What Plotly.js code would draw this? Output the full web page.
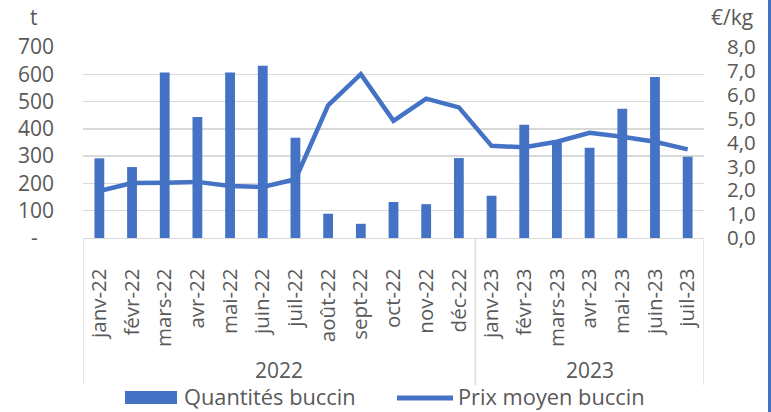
<!DOCTYPE html>
<html><head><meta charset="utf-8">
<script src="https://cdn.plot.ly/plotly-3.0.1.min.js"></script>
<style>html,body{margin:0;padding:0;background:#fff}#chart{width:771px;height:412px}</style>
</head><body><div id="chart"></div>
<script>
const years = ["2022","2022","2022","2022","2022","2022","2022","2022","2022","2022","2022","2022","2023","2023","2023","2023","2023","2023","2023"];
const months = ["janv-22","févr-22","mars-22","avr-22","mai-22","juin-22","juil-22","août-22","sept-22","oct-22","nov-22","déc-22","janv-23","févr-23","mars-23","avr-23","mai-23","juin-23","juil-23"];
const quantites = [292,260,607,443,607,631,367,89,52,132,124,293,155,415,359,331,474,590,298];
const prix = [1.97,2.30,2.31,2.35,2.18,2.14,2.46,5.56,6.86,4.91,5.84,5.47,3.86,3.80,4.03,4.41,4.24,4.03,3.71];
const leftTickVals = [0,100,200,300,400,500,600,700];
const leftTickText = ["-\u00a0\u00a0\u00a0","100","200","300","400","500","600","700"];
const seriesNames = ["Quantités buccin", "Prix moyen buccin"];

const FONT = "Open Sans, DejaVu Sans, sans-serif";
const GREY = "#595959";
const BLUE = "#4472C4";
const DIV = "#d9d9d9";

// year groups derived from the years array (category index ranges)
const groups = [];
years.forEach((y, i) => {
  const g = groups[groups.length - 1];
  if (g && g.name === y) g.last = i; else groups.push({name: y, first: i, last: i});
});

const yearAnn = groups.map(g => ({
  text: g.name, xref: "x", yref: "paper", x: (g.first + g.last) / 2, y: -0.691,
  xanchor: "center", yanchor: "middle", showarrow: false, font: {size: 21, color: GREY}
}));
const dividerX = [groups[0].first - 0.5].concat(groups.map(g => g.last + 0.5));
const dividers = dividerX.map(x => ({
  type: "line", xref: "x", yref: "paper", x0: x, x1: x, y0: 0, y1: -0.77,
  line: {color: DIV, width: 1.3}
}));

// legend drawn in paper space
const legendShapes = [
  {type:"rect", xref:"paper", yref:"paper", x0:0.0676, x1:0.1514, y0:-0.869, y1:-0.801,
   line:{width:0}, fillcolor:BLUE},
  {type:"line", xref:"paper", yref:"paper", x0:0.5056, x1:0.5958, y0:-0.838, y1:-0.838,
   line:{color:BLUE, width:5}}
];
const legendAnn = [
  {text:seriesNames[0], xref:"paper", yref:"paper", x:0.159, y:-0.830, xanchor:"left", yanchor:"middle",
   showarrow:false, font:{size:21.8, color:GREY}},
  {text:seriesNames[1], xref:"paper", yref:"paper", x:0.600, y:-0.830, xanchor:"left", yanchor:"middle",
   showarrow:false, font:{size:21.8, color:GREY}}
];

const data = [
  {type:"bar", name:seriesNames[0], x:months, y:quantites,
   marker:{color:BLUE}, width:0.3, yaxis:"y"},
  {type:"scatter", mode:"lines", name:seriesNames[1], x:months, y:prix,
   line:{color:BLUE, width:4.5}, yaxis:"y2"}
];

const layout = {
  width:771, height:412,
  margin:{l:83, r:67, t:47, b:174, autoexpand:false},
  paper_bgcolor:"#fff", plot_bgcolor:"#fff",
  font:{family:FONT, color:GREY, size:20},
  separators:", ",
  showlegend:false,
  xaxis:{type:"category", tickangle:-90, showgrid:false, showline:true, linecolor:DIV,
         linewidth:1.3, tickfont:{size:20.5, color:GREY}, ticks:"", ticklabelstandoff:21,
         automargin:false, range:[-0.5, months.length - 0.5]},
  yaxis:{range:[0,700], tickvals:leftTickVals, ticktext:leftTickText, showgrid:true,
         gridcolor:DIV, gridwidth:1.3, zeroline:false, showline:false, ticks:"",
         tickfont:{size:21, color:GREY}, ticklabelstandoff:28, automargin:false},
  yaxis2:{range:[0,8], dtick:1, tickformat:".1f", overlaying:"y", side:"right",
          showgrid:false, zeroline:false, showline:false, ticks:"",
          tickfont:{size:20.5, color:GREY}, ticklabelstandoff:22, automargin:false},
  annotations:[
    {text:"t", xref:"paper", yref:"paper", x:-0.079, y:1.157, xanchor:"center", yanchor:"middle",
     showarrow:false, font:{size:21, color:GREY}},
    {text:"€/kg", xref:"paper", yref:"paper", x:1.045, y:1.157, xanchor:"center", yanchor:"middle",
     showarrow:false, font:{size:21, color:GREY}}
  ].concat(yearAnn, legendAnn),
  shapes:[
    {type:"line", xref:"paper", yref:"paper", x0:1.1055, x1:1.1055, y0:-1.2, y1:1.3,
     line:{color:BLUE, width:3}}
  ].concat(dividers, legendShapes)
};
Plotly.newPlot("chart", data, layout, {displayModeBar:false, staticPlot:true});
</script></body></html>
